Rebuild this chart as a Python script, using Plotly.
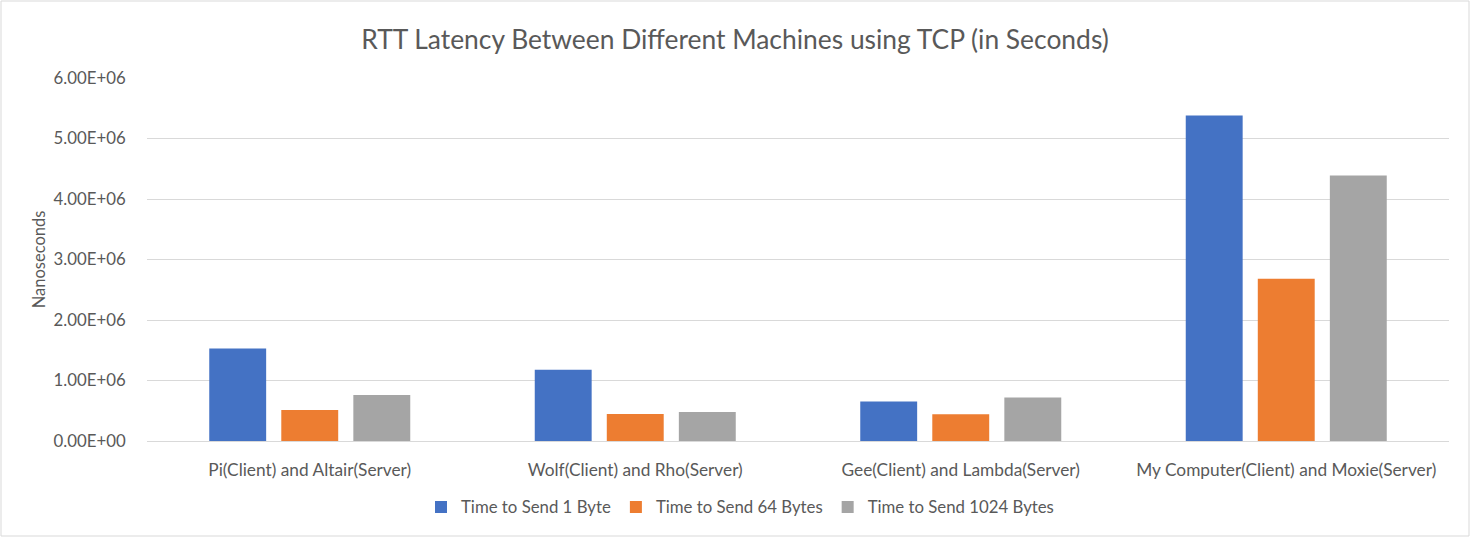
import plotly.graph_objects as go

categories = ["Pi(Client) and Altair(Server)", "Wolf(Client) and Rho(Server)",
              "Gee(Client) and Lambda(Server)", "My Computer(Client) and Moxie(Server)"]
series_names = ["Time to Send 1 Byte", "Time to Send 64 Bytes", "Time to Send 1024 Bytes"]
send_1_byte = [1.527e6, 1.178e6, 0.654e6, 5.38e6]
send_64_bytes = [0.513e6, 0.446e6, 0.441e6, 2.68e6]
send_1024_bytes = [0.762e6, 0.480e6, 0.720e6, 4.39e6]
tick_vals = [0, 1e6, 2e6, 3e6, 4e6, 5e6, 6e6]
tick_text = ["0.00E+00", "1.00E+06", "2.00E+06", "3.00E+06", "4.00E+06", "5.00E+06", "6.00E+06"]
colors = ["#4472C4", "#ED7D31", "#A5A5A5"]

FONT = "Lato"
fig = go.Figure()
for name, vals, c in zip(series_names, [send_1_byte, send_64_bytes, send_1024_bytes], colors):
    fig.add_trace(go.Bar(x=categories, y=vals, name=name, marker=dict(color=c, line=dict(width=0))))

W, H = 1470, 537
ml, mr, mt, mb = 147, 21, 78, 96
pw, ph = W - ml - mr, H - mt - mb

fig.update_layout(
    width=W, height=H,
    margin=dict(l=ml, r=mr, t=mt, b=mb),
    paper_bgcolor="white", plot_bgcolor="white",
    barmode="group", bargap=0.336, bargroupgap=0.21,
    font=dict(family=FONT, color="#595959", size=16),
    title=dict(text="RTT Latency Between Different Machines using TCP (in Seconds)",
               x=0.5, xanchor="center", y=1 - 40 / H, yanchor="middle",
               font=dict(size=26.4, color="#595959", family=FONT)),
    xaxis=dict(showgrid=False, showline=False, ticks="outside", ticklen=13,
               tickcolor="rgba(0,0,0,0)", tickfont=dict(size=17.3)),
    yaxis=dict(range=[0, 6e6], tickvals=tick_vals, ticktext=tick_text,
               gridcolor="#D9D9D9", gridwidth=1, zeroline=True, zerolinecolor="#D9D9D9",
               zerolinewidth=1, showline=False, ticks="outside", ticklen=17,
               tickcolor="rgba(0,0,0,0)", tickfont=dict(size=16.8),
               title=dict(text="Nanoseconds", font=dict(size=16.5), standoff=3)),
    legend=dict(orientation="h", x=(740 - ml) / pw, xanchor="center", y=-(507 - 441) / ph,
                yanchor="middle", font=dict(size=16.8), itemwidth=30, traceorder="normal"),
    showlegend=True,
)
fig.add_shape(type="rect", xref="paper", yref="paper",
              x0=-(ml - 1) / pw, x1=1 + (mr - 1) / pw, y0=-(mb - 1) / ph, y1=1 + (mt - 1) / ph,
              line=dict(color="#D9D9D9", width=1), fillcolor="rgba(0,0,0,0)", layer="below")
fig.write_html("out.html")
